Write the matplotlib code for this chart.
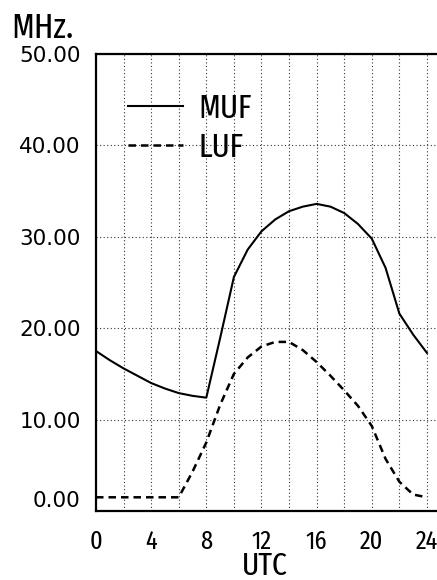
import matplotlib
matplotlib.use("Agg")
import matplotlib.pyplot as plt

# hourly readings, UTC
hours = list(range(0, 25))
muf = [17.5, 16.5, 15.6, 14.8, 14.0, 13.4, 12.9, 12.6, 12.4, 18.9, 25.6, 28.6, 30.6,
       31.9, 32.8, 33.3, 33.6, 33.3, 32.6, 31.4, 29.8, 26.6, 21.6, 19.3, 17.3]
luf = [1.5, 1.5, 1.5, 1.5, 1.5, 1.5, 1.5, 4.3, 7.5, 11.6, 15.0, 16.8, 18.0,
       18.5, 18.5, 17.6, 16.3, 14.8, 13.2, 11.5, 9.3, 5.7, 3.2, 1.8, 1.5]

y_ticks = [0, 10, 20, 30, 40, 50]
y_labels = ["0.00", "10.00", "20.00", "30.00", "40.00", "50.00"]
x_ticks = [0, 4, 8, 12, 16, 20, 24]

narrow = ["Fira Sans Extra Condensed", "DejaVu Sans"]
plain = ["DejaVu Sans"]
plt.rcParams["font.family"] = narrow

fig = plt.figure(figsize=(4.37, 5.80), dpi=100)
ax = fig.add_axes([96 / 437, 1 - 511 / 580, 1 - 96 / 437, 457 / 580])

ax.plot(hours, muf, color="black", lw=1.5, label="MUF")
ax.plot(hours, luf, color="black", lw=1.8, dashes=(3, 2), label="LUF")

ax.set_xlim(0, 24.73)
ax.set_ylim(0, 50)
ax.set_xticks(x_ticks)
ax.set_xticks(range(0, 25, 2), minor=True)
ax.set_yticks(y_ticks)
ax.set_yticklabels(y_labels, family=plain)
ax.tick_params(length=0, which="both")
ax.tick_params(axis="y", labelsize=15.5, pad=11)
ax.tick_params(axis="x", labelsize=19, pad=13)
ax.get_yticklabels()[0].set_va("bottom")

ax.grid(True, which="both", color="#333333", lw=0.8, linestyle=(0, (1, 2.2)))
ax.set_axisbelow(True)

for s in ["left", "top", "bottom"]:
    ax.spines[s].set_linewidth(1.6)
ax.spines["right"].set_visible(False)

ax.set_xlabel("UTC", fontsize=23, va="top")
ax.xaxis.set_label_coords(0.496, -0.087)
fig.text(11 / 437, 1 - 38 / 580, "MHz.", fontsize=25, ha="left", va="baseline")

ax.legend(loc="center left", bbox_to_anchor=(0.094, 0.838), frameon=False,
          fontsize=24, handlelength=1.65, handletextpad=0.45, labelspacing=0.2,
          borderpad=0, borderaxespad=0)

fig.savefig("out.png", dpi=100)
